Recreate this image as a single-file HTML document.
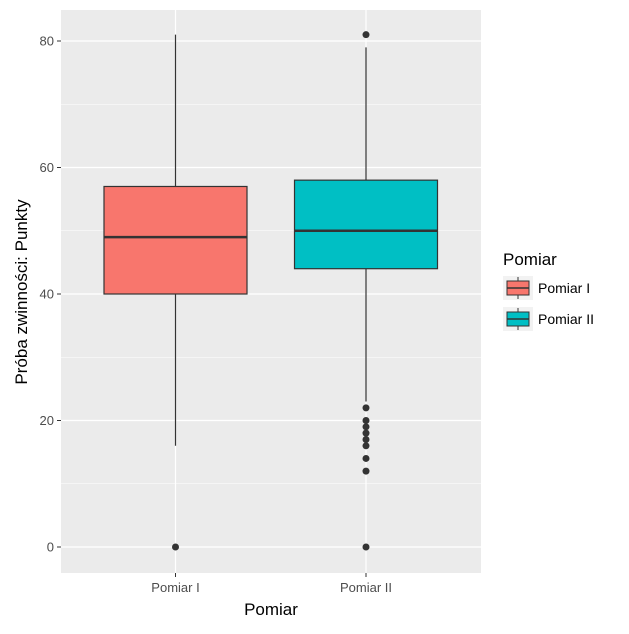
<!DOCTYPE html>
<html><head><meta charset="utf-8"><style>
body{margin:0;background:#fff;font-family:"Liberation Sans",Arial,sans-serif}
</style></head><body>
<svg width="629" height="629" xmlns="http://www.w3.org/2000/svg" id="chart" font-family="Liberation Sans, Arial, sans-serif">
<rect x="61" y="10" width="420" height="563" fill="#ebebeb"/>
<g id="grid"></g>
<g id="boxes"></g>
<g id="axes"></g>
<text x="271" y="615" text-anchor="middle" font-size="17" fill="#000">Pomiar</text>
<text transform="translate(27,292) rotate(-90)" text-anchor="middle" font-size="17" fill="#000">Próba zwinności: Punkty</text>
<g>
<text x="503" y="265" font-size="17" fill="#000">Pomiar</text>
<g>
<rect x="503" y="276" width="30" height="24" fill="#f2f2f2"/>
<line x1="518" y1="277" x2="518" y2="299" stroke="#333" stroke-width="1"/>
<rect x="507" y="281" width="22" height="14" fill="#f8766d" stroke="#333" stroke-width="1"/>
<line x1="507" y1="288" x2="529" y2="288" stroke="#333" stroke-width="1.5"/>
<text x="538" y="293" font-size="14" fill="#000">Pomiar I</text></g>
<g>
<rect x="503" y="307" width="30" height="24" fill="#f2f2f2"/>
<line x1="518" y1="308" x2="518" y2="330" stroke="#333" stroke-width="1"/>
<rect x="507" y="312" width="22" height="14" fill="#00bfc4" stroke="#333" stroke-width="1"/>
<line x1="507" y1="319" x2="529" y2="319" stroke="#333" stroke-width="1.5"/>
<text x="538" y="324" font-size="14" fill="#000">Pomiar II</text></g>
</g>
</svg>
<script>
const categories=["Pomiar I","Pomiar II"];
const q1=[40,44];
const medians=[49,50];
const q3=[57,58];
const whiskerLow=[16,23];
const whiskerHigh=[81,79];
const outliers=[[0],[81,22,20,19,18,17,16,14,12,0]];
const colors=["#f8766d","#00bfc4"];
const yTicks=[0,20,40,60,80];
const yMinor=[10,30,50,70];
const NS="http://www.w3.org/2000/svg";
function y(v){return 547-(v)*6.325;}
function x(i){return 175.5+i*190.5;}
function mk(t,a,p){const e=document.createElementNS(NS,t);for(const k in a)e.setAttribute(k,a[k]);p.appendChild(e);return e;}
const grid=document.getElementById('grid'),boxes=document.getElementById('boxes'),axes=document.getElementById('axes');
yMinor.forEach(v=>{const l=mk('line',{x1:61,x2:481,y1:y(v),y2:y(v),stroke:'#fff','stroke-width':0.6},grid);

});
yTicks.forEach(v=>{const l=mk('line',{x1:61,x2:481,y1:y(v),y2:y(v),stroke:'#fff','stroke-width':1.2},grid);


const t=mk('line',{x1:57,x2:61,y1:y(v),y2:y(v),stroke:'#333'},axes);


const tx=mk('text',{x:54,y:y(v)+4.5,'text-anchor':'end','font-size':13,fill:'#4d4d4d'},axes);tx.textContent=v;

});
categories.forEach((c,i)=>{const cx=x(i);
const g=mk('line',{x1:cx,x2:cx,y1:10,y2:573,stroke:'#fff','stroke-width':1.2},grid);


const t=mk('line',{x1:cx,x2:cx,y1:573,y2:577,stroke:'#333'},axes);


const tx=mk('text',{x:cx,y:592,'text-anchor':'middle','font-size':13,fill:'#4d4d4d'},axes);tx.textContent=c;


const w=mk('line',{x1:cx,x2:cx,y1:y(whiskerHigh[i]),y2:y(whiskerLow[i]),stroke:'#333','stroke-width':1.2},boxes);


const b=mk('rect',{x:cx-71.5,y:y(q3[i]),width:143,height:y(q1[i])-y(q3[i]),fill:colors[i],stroke:'#333','stroke-width':1.2},boxes);


const m=mk('line',{x1:cx-71.5,x2:cx+71.5,y1:y(medians[i]),y2:y(medians[i]),stroke:'#333','stroke-width':2.5},boxes);


outliers[i].forEach(o=>{const p=mk('circle',{cx:cx,cy:y(o),r:3.5,fill:'#333'},boxes);

});});
</script>
</body></html>
